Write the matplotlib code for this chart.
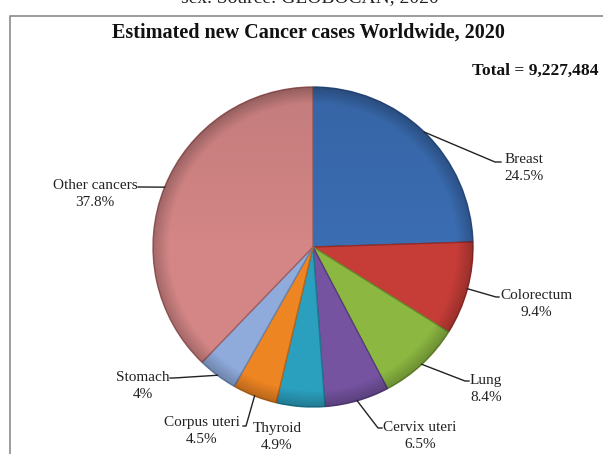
import numpy as np
import matplotlib
matplotlib.use("Agg")
import matplotlib.pyplot as plt
from matplotlib.patches import Circle

plt.rcParams['font.family'] = ['Liberation Serif', 'DejaVu Serif']

# data
sites = ["Breast", "Colorectum", "Lung", "Cervix uteri", "Thyroid",
         "Corpus uteri", "Stomach", "Other cancers"]
shares = [24.5, 9.4, 8.4, 6.5, 4.9, 4.5, 4.0, 37.8]
pct_labels = ["24.5%", "9.4%", "8.4%", "6.5%", "4.9%", "4.5%", "4%", "37.8%"]
colors = ["#3b6db3", "#c63d38", "#8cb842", "#7553a1", "#2b9fbe",
          "#ee8523", "#8fabdc", "#d48686"]
edges = ["#2c528a", "#962c28", "#6a8c30", "#563c7a", "#1f7890",
         "#b8641a", "#6a82ad", "#a05e5e"]

W, H = 603, 454
fig = plt.figure(figsize=(W / 100, H / 100), dpi=100)
ax = fig.add_axes([0, 0, 1, 1])

cx, cy, r = 313, H - 247, 160
wedges, _ = ax.pie(shares, colors=colors, startangle=90, counterclock=False,
                   center=(cx, cy), radius=r, frame=True,
                   wedgeprops=dict(linewidth=1.0))
for w, ec in zip(wedges, edges):
    w.set_edgecolor(ec)

# soft shading to mimic the bevelled look
n = 300
yy, xx = np.mgrid[-1:1:n * 1j, -1:1:n * 1j]
rr = np.sqrt(xx ** 2 + yy ** 2)
shade = np.zeros((n, n, 4))
shade[..., 3] = np.clip((rr - 0.9) / 0.1, 0, 1) * 0.22
shade[..., 3] += np.clip(-yy, 0, 1) * 0.08
im = ax.imshow(shade, extent=(cx - r, cx + r, cy - r, cy + r), origin='upper',
               zorder=3, interpolation='bilinear')
im.set_clip_path(Circle((cx, cy), r, transform=ax.transData))
ax.set_xlim(0, W)
ax.set_ylim(0, H)
ax.set_aspect('auto')
ax.axis('off')

# label placement (image pixel coords: text centre, elbow, line end)
text_pos = [(524, 168), (536, 304), (486, 389), (420, 436),
            (277, 437), (202, 431), (143, 386), (95, 194)]
elbows = [(495, 162), (496, 297), (465, 381), (378, 428),
          None, (246, 426), (174, 378), (141, 187)]
ends = [(501, 162), (499, 297), (469, 381), (382, 428),
        None, (243, 426), (170, 378), (138, 187)]

for w, name, pct, tp, el, en in zip(wedges, sites, pct_labels, text_pos, elbows, ends):
    mid = np.deg2rad((w.theta1 + w.theta2) / 2)
    ax_x = cx + r * np.cos(mid)
    ax_y = cy + r * np.sin(mid)
    if el is not None:
        ax.plot([ax_x, el[0], en[0]], [ax_y, H - el[1], H - en[1]],
                color="#222222", lw=1.0, zorder=4)
    ax.text(tp[0], H - tp[1], name + "\n" + pct, ha='center', va='center',
            fontsize=11, linespacing=1.45, color="#222222", zorder=5)

# frame
ax.plot([10, 10, W], [0, H - 16, H - 16], color="#8a8a8a", lw=1.2)

ax.text(310, H + 2, "sex. Source: GLOBOCAN, 2020", ha='center', va='center',
        fontsize=14, color="#222222")
ax.text(308, H - 33, "Estimated new Cancer cases Worldwide, 2020", ha='center',
        va='center', fontsize=14.5, fontweight='bold', color="#111111")
ax.text(599, H - 71, "Total = 9,227,484", ha='right', va='center',
        fontsize=12.5, fontweight='bold', color="#111111")

fig.savefig("out.png", dpi=100)
